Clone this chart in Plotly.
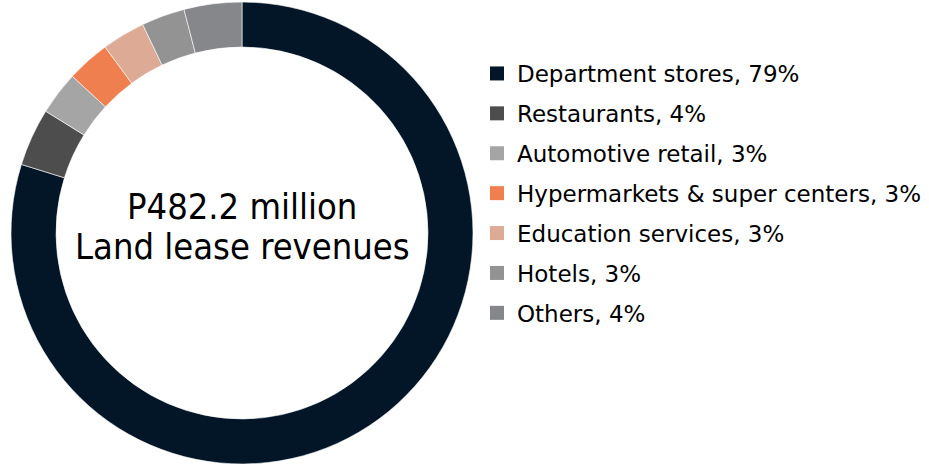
import plotly.graph_objects as go

# Land lease revenue mix by tenant category
categories = [
    "Department stores",
    "Restaurants",
    "Automotive retail",
    "Hypermarkets & super centers",
    "Education services",
    "Hotels",
    "Others",
]
shares = [79, 4, 3, 3, 3, 3, 4]
colors = ["#021628", "#4d4d4d", "#a5a5a5", "#f07f4f", "#ddab95", "#939393", "#86878a"]
center_title = "P482.2 million"
center_subtitle = "Land lease revenues"

LEGEND_FONT = "DejaVu Sans"
CENTER_FONT = "DejaVu Sans Condensed"

fig = go.Figure()

fig.add_trace(go.Pie(
    labels=categories,
    values=shares,
    sort=False,
    direction="clockwise",
    rotation=0,
    hole=0.805,
    marker=dict(colors=colors, line=dict(color="#ffffff", width=0.6)),
    textinfo="none",
    hoverinfo="label+percent",
    showlegend=False,
    domain=dict(x=[11 / 929, 473 / 929], y=[2 / 466, 464 / 466]),
))

# Legend entries: one square marker per category
for i, (cat, pct, col) in enumerate(zip(categories, shares, colors)):
    fig.add_trace(go.Scatter(
        x=[None], y=[None],
        mode="markers",
        marker=dict(symbol="square", size=14, color=col),
        name=f"{cat}, {pct}%",
        legendgroup=f"g{i}",
        showlegend=True,
    ))

# Two-line caption in the donut hole
for text, ypix in [(center_title, 206), (center_subtitle, 246)]:
    fig.add_annotation(
        text=text,
        x=242 / 929, y=1 - ypix / 466, xref="paper", yref="paper",
        xanchor="center", yanchor="middle",
        showarrow=False,
        font=dict(family=CENTER_FONT, size=36, color="#000000"),
    )

fig.update_layout(
    width=929, height=466,
    margin=dict(l=0, r=0, t=0, b=0),
    paper_bgcolor="white",
    plot_bgcolor="white",
    xaxis=dict(visible=False),
    yaxis=dict(visible=False),
    showlegend=True,
    legend=dict(
        x=477 / 929, y=1 - 52 / 466,
        xanchor="left", yanchor="top",
        font=dict(family=LEGEND_FONT, size=23, color="#000000"),
        tracegroupgap=7,
        bgcolor="rgba(0,0,0,0)",
    ),
)

fig.write_html("out.html")
